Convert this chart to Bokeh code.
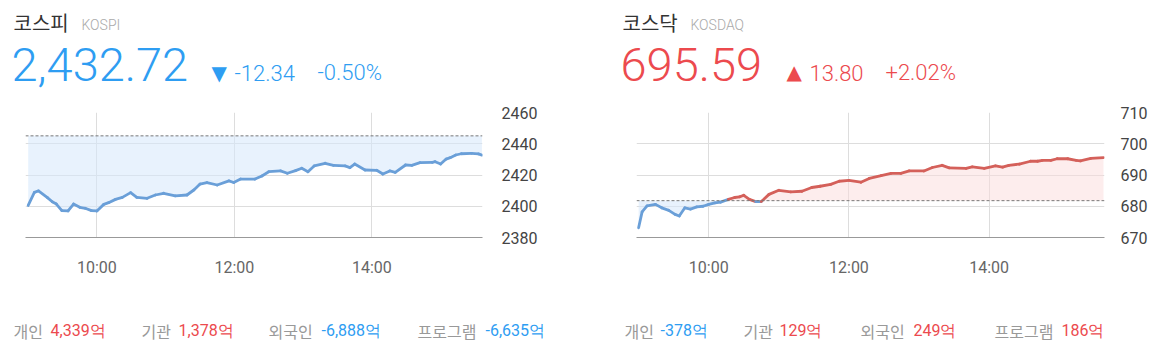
import numpy as np
from bokeh.plotting import figure
from bokeh.layouts import column, row
from bokeh.models import Range1d, FixedTicker, Span
from bokeh.core.properties import value
from bokeh.embed import file_html
from bokeh.resources import INLINE

# ---------------- data ----------------
kospi_time = [9.00, 9.09, 9.15, 9.28, 9.35, 9.41, 9.49, 9.58, 9.66, 9.75, 9.83, 9.92, 10.00,
              10.10, 10.17, 10.27, 10.37, 10.49, 10.58, 10.73, 10.85, 10.97, 11.14, 11.31, 11.41,
              11.50, 11.60, 11.75, 11.92, 11.99, 12.09, 12.30, 12.40, 12.50, 12.67, 12.77, 12.89,
              12.98, 13.07, 13.16, 13.32, 13.44, 13.61, 13.68, 13.75, 13.90, 14.07, 14.16, 14.26,
              14.34, 14.49, 14.58, 14.70, 14.88, 14.92, 15.00, 15.08, 15.14, 15.22, 15.30, 15.45,
              15.55, 15.60]
kospi_value = [2400.5, 2408.9, 2409.8, 2405.5, 2402.9, 2401.4, 2397.2, 2397.0, 2401.4, 2399.3,
               2398.7, 2397.2, 2397.0, 2401.2, 2402.3, 2404.4, 2405.7, 2408.7, 2405.7, 2405.1,
               2407.2, 2408.3, 2406.6, 2407.2, 2410.4, 2414.2, 2415.1, 2413.6, 2416.2, 2415.2,
               2417.4, 2417.4, 2419.4, 2422.1, 2422.6, 2421.1, 2422.8, 2424.3, 2422.1, 2425.8,
               2427.5, 2426.2, 2425.8, 2424.7, 2427.0, 2423.2, 2423.0, 2420.6, 2422.6, 2421.7,
               2426.4, 2426.2, 2427.9, 2428.1, 2428.5, 2427.0, 2430.2, 2431.1, 2432.8, 2433.6,
               2433.9, 2433.5, 2432.72]
kospi_prev = 2445.06

kosdaq_time = [9.00, 9.05, 9.12, 9.24, 9.33, 9.43, 9.52, 9.58, 9.66, 9.74, 9.83, 9.92, 10.00,
               10.09, 10.17, 10.28, 10.37, 10.44, 10.50, 10.58, 10.67, 10.75, 10.86, 11.00, 11.17,
               11.33, 11.47, 11.59, 11.74, 11.86, 12.00, 12.17, 12.29, 12.46, 12.60, 12.74, 12.86,
               13.07, 13.19, 13.33, 13.43, 13.67, 13.76, 13.93, 14.09, 14.19, 14.28, 14.43, 14.59,
               14.69, 14.76, 14.88, 14.97, 15.12, 15.24, 15.30, 15.45, 15.63]
kosdaq_value = [673.1, 678.2, 680.1, 680.6, 679.5, 678.7, 677.4, 676.9, 679.5, 679.1, 679.8,
                680.0, 680.6, 681.1, 681.3, 682.2, 682.8, 683.0, 683.5, 682.2, 681.5, 681.5,
                683.8, 685.1, 684.6, 684.8, 686.0, 686.4, 687.0, 688.0, 688.3, 687.7, 688.9,
                689.8, 690.5, 690.5, 691.3, 691.3, 692.4, 693.1, 692.3, 692.1, 692.6, 692.1,
                692.9, 692.5, 693.1, 693.5, 694.4, 694.4, 694.7, 694.7, 695.2, 695.2, 694.7,
                694.5, 695.3, 695.59]
kosdaq_prev = 681.79

time_ticks = [10, 12, 14]
time_labels = ["10:00", "12:00", "14:00"]
kospi_ticks = [2380, 2400, 2420, 2440, 2460]
kosdaq_ticks = [670, 680, 690, 700, 710]

names = ["코스피", "코스닥"]
codes = ["KOSPI", "KOSDAQ"]
prices = ["2,432.72", "695.59"]
arrows = ["▼", "▲"]
changes = ["-12.34", "13.80"]
pcts = ["-0.50%", "+2.02%"]

flow_labels = ["개인", "기관", "외국인", "프로그램"]
kospi_flow = ["4,339억", "1,378억", "-6,888억", "-6,635억"]
kosdaq_flow = ["-378억", "129억", "249억", "186억"]

BLUE = "#2e9df2"
RED = "#ec4a4e"
LINE_BLUE = "#6a9fd8"
LINE_RED = "#d4605a"
LIGHT = "Roboto Light, Roboto"

# ---------------- header ----------------
top = figure(width=1174, height=100, x_range=Range1d(0, 1174), y_range=Range1d(100, 0),
             output_backend="svg", toolbar_location=None,
             min_border_left=0, min_border_right=0, min_border_top=0, min_border_bottom=0)
top.axis.visible = False
top.grid.visible = False
top.outline_line_color = None

top.text(x=[13, 622], y=[22, 22], text=names, text_font=value("Noto Sans CJK KR"),
         text_font_size="20px", text_color="#333333", text_baseline="middle")
top.text(x=[81, 690], y=[24, 24], text=codes, text_font=value(LIGHT),
         text_font_size="14px", text_color="#aaaaaa", text_baseline="middle")
top.text(x=[11, 620], y=[64, 64], text=prices, text_font=value(LIGHT),
         text_font_size="47px", text_color=[BLUE, RED], text_baseline="middle")
top.text(x=[211, 786], y=[72, 71], text=arrows, text_font=value("DejaVu Sans"),
         text_font_size="20px", text_color=[BLUE, RED], text_baseline="middle")
top.text(x=[234, 809], y=[72, 72], text=changes, text_font=value(LIGHT),
         text_font_size="22px", text_color=[BLUE, RED], text_baseline="middle")
top.text(x=[317, 885], y=[72, 72], text=pcts, text_font=value(LIGHT),
         text_font_size="22px", text_color=[BLUE, RED], text_baseline="middle")


# ---------------- charts ----------------
def make_chart(t, v, prev, ticks, xr, bl, br, standoff):
    t = np.array(t)
    v = np.array(v)
    p = figure(width=587, height=190, x_range=Range1d(*xr),
               y_range=Range1d(ticks[0], ticks[-1]), y_axis_location="right",
               output_backend="svg", toolbar_location=None,
               min_border_left=bl, min_border_right=br, min_border_top=12, min_border_bottom=53)
    p.outline_line_color = None
    p.xaxis.ticker = FixedTicker(ticks=time_ticks)
    p.xaxis.major_label_overrides = {k: s for k, s in zip(time_ticks, time_labels)}
    p.yaxis.ticker = FixedTicker(ticks=ticks)
    for ax in (p.xaxis, p.yaxis):
        ax.major_tick_line_color = None
        ax.minor_tick_line_color = None
        ax.major_label_text_font = "Roboto"
        ax.major_label_text_font_size = "16px"
    p.xaxis.axis_line_color = "#999999"
    p.xaxis.major_label_text_color = "#666666"
    p.xaxis.major_label_standoff = 14
    p.yaxis.axis_line_color = None
    p.yaxis.major_label_text_color = "#444444"
    p.yaxis.major_label_standoff = standoff
    p.grid.grid_line_color = "#dddddd"

    p.varea(x=t, y1=prev, y2=np.minimum(v, prev), fill_color="#d6e8fb", fill_alpha=0.55)
    p.varea(x=t, y1=prev, y2=np.maximum(v, prev), fill_color="#fbdcdc", fill_alpha=0.5)
    p.add_layout(Span(location=prev, dimension="width", line_color="#777777",
                      line_dash="3 2", line_width=1))
    mid = (v[:-1] + v[1:]) / 2
    colors = [LINE_RED if m > prev else LINE_BLUE for m in mid]
    p.segment(x0=t[:-1], y0=v[:-1], x1=t[1:], y1=v[1:], line_color=colors,
              line_width=2.8, line_cap="round")
    return p


left = make_chart(kospi_time, kospi_value, kospi_prev, kospi_ticks, (8.961, 15.609), 25, 105, 13)
right = make_chart(kosdaq_time, kosdaq_value, kosdaq_prev, kosdaq_ticks, (8.97, 15.645), 49, 70, 10)

# ---------------- footer ----------------
bottom = figure(width=1174, height=62, x_range=Range1d(0, 1174), y_range=Range1d(352, 290),
                output_backend="svg", toolbar_location=None,
                min_border_left=0, min_border_right=0, min_border_top=0, min_border_bottom=0)
bottom.axis.visible = False
bottom.grid.visible = False
bottom.outline_line_color = None

lab_x = [13, 141, 268, 417, 624, 743, 860, 994]
val_x = [50, 178, 321, 485, 660, 779, 913, 1061]
bottom.text(x=lab_x, y=[330] * 8, text=flow_labels + flow_labels,
            text_font=value("Noto Sans CJK KR"), text_font_size="16px",
            text_color="#999999", text_baseline="middle")
vals = kospi_flow + kosdaq_flow
vcol = [BLUE if s.startswith("-") else RED for s in vals]
bottom.text(x=val_x, y=[330] * 8, text=vals, text_font=value("Roboto"),
            text_font_size="16px", text_color=vcol, text_baseline="middle")

layout = column(top, row(left, right), bottom)
open("out.html", "w").write(file_html(layout, INLINE))
